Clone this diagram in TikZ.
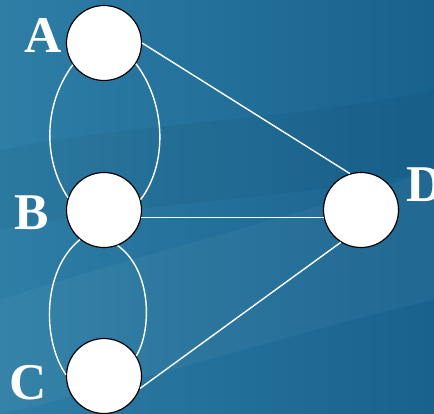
\documentclass[tikz,border=0pt]{standalone}
\usepackage{fontspec}
\setmainfont{Liberation Serif}
\usetikzlibrary{positioning}
\definecolor{bglight}{RGB}{46,126,166}
\definecolor{bgdark}{RGB}{24,98,142}
\tikzstyle{vertex} = [circle, draw=black, line width=1pt, fill=white, minimum size=2.25cm, inner sep=0pt]
\tikzstyle{letter} = [text=white, font=\bfseries\fontsize{44}{44}\selectfont, inner sep=0pt]
\tikzstyle{edge} = [draw=white, line width=1.2pt]
\begin{document}
\begin{tikzpicture}[x=0.03cm, y=-0.03cm, on grid]

    % Background
    \shade[left color=bglight, right color=bgdark] (0,0) rectangle (434,414);
    \fill[white, opacity=0.04] (0,300) .. controls (120,260) and (250,230) .. (434,170) -- (434,300) .. controls (300,330) and (150,380) .. (0,414) -- cycle;
    \fill[black, opacity=0.04] (0,150) .. controls (150,120) and (300,120) .. (434,90) -- (434,170) .. controls (300,200) and (150,200) .. (0,230) -- cycle;
    \useasboundingbox (0,0) rectangle (434,414);

    % Vertices
    \node (A) [vertex] at (104,43) {};
    \node (B) [vertex, below=5.01cm of A] {};
    \node (C) [vertex, below=4.98cm of B] {};
    \node (D) [vertex, right=7.71cm of B] {};

    % Labels
    \node (labA) [letter] at (43,35) {A};
    \node (labB) [letter] at (32,213) {B};
    \node (labC) [letter] at (28,383) {C};
    \node (labD) [letter] at (425,185) {D};

    % Bridges
    \draw [edge] (A.215) .. controls (43,105) and (43,160) .. (B.161);
    \draw [edge] (A.-33) .. controls (167,105) and (167,165) .. (B.16);
    \draw [edge] (B.231) .. controls (42,270) and (42,340) .. (C.178);
    \draw [edge] (B.291) .. controls (152,270) and (152,330) .. (C.32);
    \draw [edge] (A.0) -- (D.107);
    \draw [edge] (B.-11) -- (D.191);
    \draw [edge] (C.-19) -- (D.238);

\end{tikzpicture}
\end{document}
